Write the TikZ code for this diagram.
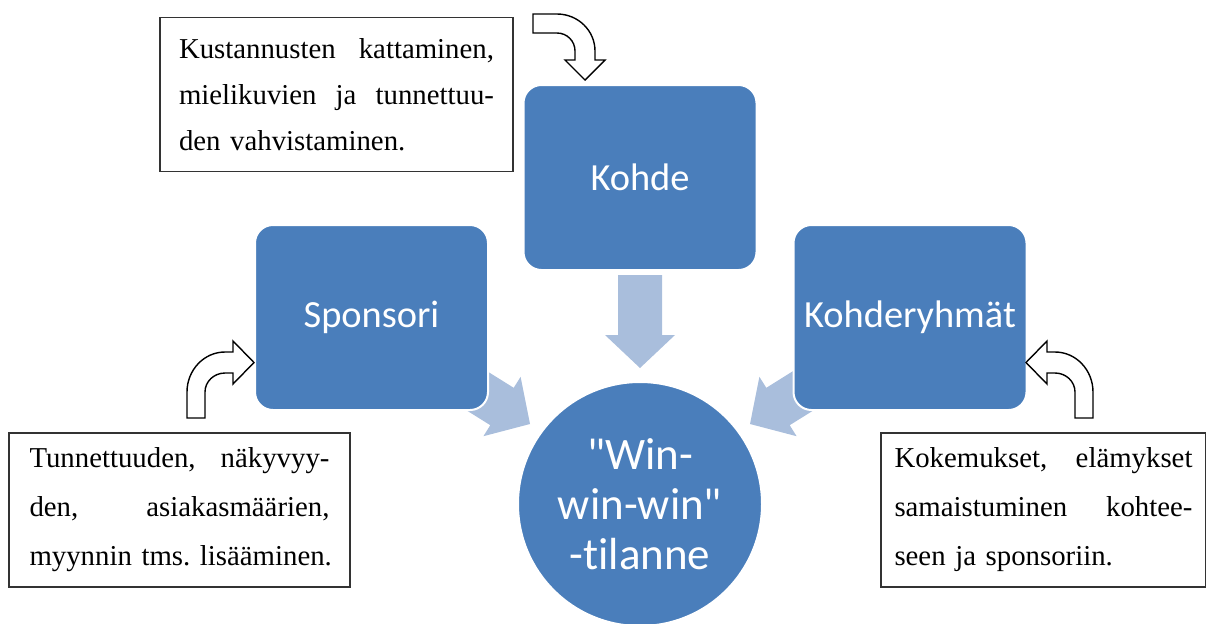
\documentclass[tikz,border=0pt]{standalone}
\usepackage{fontspec}
\setmainfont{Liberation Serif}
\newfontfamily\calib[Ligatures=NoCommon]{Carlito}
\definecolor{boxblue}{HTML}{4A7EBB}
\definecolor{lightblue}{HTML}{A9BEDC}
\setlength{\parindent}{0pt}
\frenchspacing
\begin{document}
\begin{tikzpicture}[x=0.5pt,y=-0.5pt,
  bluebox/.style={rectangle, rounded corners=9pt, fill=boxblue, draw=white, line width=1pt,
    minimum width=116.5pt, minimum height=92.5pt, inner sep=0pt, text=white,
    font=\calib\fontsize{19.2}{23}\selectfont},
  wincircle/.style={circle, fill=boxblue, draw=white, line width=1pt, minimum size=122pt,
    inner sep=0pt, text=white, align=center, font=\calib\fontsize{22.5}{25}\selectfont},
  txtbox/.style={rectangle, draw=black!80, line width=0.6pt, fill=white, inner xsep=0pt,
    inner ysep=0pt, minimum height=77pt, align=left},
  blockarrow/.style={fill=lightblue},
  curvearrow/.style={fill=white, draw=black, line width=0.7pt, line join=miter}]
\useasboundingbox (0,0) rectangle (1206,623);

% light block arrows (behind)
\fill[blockarrow] (618,275) -- (662,275) -- (662,335) -- (675,335) -- (640,368) -- (605,335) -- (618,335) -- cycle;
\fill[blockarrow] (462.8,356) -- (513.7,387.8) -- (520.6,376.8) -- (530,424) -- (483.4,436.2) -- (490.3,425.2) -- (439.4,393.4) -- cycle;
\fill[blockarrow] (817.2,356) -- (766.3,387.8) -- (759.4,376.8) -- (750,424) -- (796.6,436.2) -- (789.7,425.2) -- (840.6,393.4) -- cycle;

% blue nodes
\node[bluebox] (kohde) at (640,177.5) {Kohde};
\node[bluebox] (spons) at (371.5,317.5) {Sponsori};
\node[bluebox] (kryhm) at (910,317.5) {Kohderyhmät};
\node[wincircle] (win) at (640,504) {"Win-\\win-win"\\-tilanne};

% text boxes
\node[txtbox, minimum width=176.5pt, text width=157.5pt, font=\fontsize{14.4}{23}\selectfont] (ttop) at (336.5,94.5)
  {Kustannusten\hfill kattaminen,\\mielikuvien\hfill ja\hfill tunnettuu-\\\mbox{den vahvistaminen.}};
\node[txtbox, minimum width=170.5pt, text width=150pt, font=\fontsize{14.4}{24.5}\selectfont] (tleft) at (179.5,510)
  {Tunnettuuden,\hfill näkyvyy-\\den,\hfill asiakasmäärien,\\\mbox{myynnin tms. lisääminen.}};
\node[txtbox, minimum width=162.5pt, text width=149pt, font=\fontsize{14.4}{24.5}\selectfont] (tright) at (1043.5,510)
  {Kokemukset,\hfill elämykset\\samaistuminen\hfill kohtee-\\\mbox{seen ja sponsoriin.}};

% curved arrows
\draw[curvearrow] (533,14) -- (557,14) .. controls (578,14) and (595,30.6) .. (595,51)
  -- (595,60) -- (605,60) -- (585,80) -- (565,60) -- (575,60) -- (575,51)
  .. controls (575,41) and (567,33) .. (557,33) -- (533,33) -- cycle;
\draw[curvearrow] (187,418) -- (187,392) .. controls (187,370) and (204,352) .. (225,352)
  -- (233,352) -- (233,341) -- (254,362.5) -- (233,384) -- (233,373) -- (225,373)
  .. controls (214,373) and (205,381.5) .. (205,392) -- (205,418) -- cycle;
\draw[curvearrow] (1093,418) -- (1093,392) .. controls (1093,370) and (1076,352) .. (1055,352)
  -- (1047,352) -- (1047,341) -- (1026,362.5) -- (1047,384) -- (1047,373) -- (1055,373)
  .. controls (1066,373) and (1075,381.5) .. (1075,392) -- (1075,418) -- cycle;
\end{tikzpicture}
\end{document}
